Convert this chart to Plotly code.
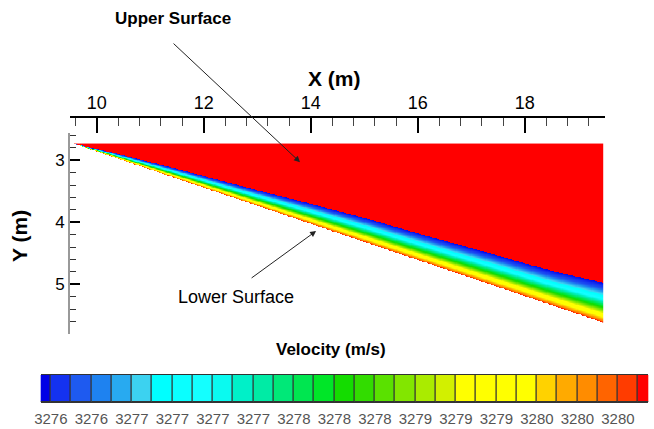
import numpy as np
import plotly.graph_objects as go

# ---------------- data ----------------
# wedge geometry (m)
apex_x = 9.56
end_x = 19.46
upper_surface_y = 2.73
lower_surface_y_end = 5.61

# boundary-layer thickness (vertical, m) along the lower surface
bl_station_x = [9.56, 10.44, 11.56, 12.86, 13.99, 15.11, 16.23, 17.35, 18.47, 19.46]
bl_thickness = [0.0, 0.08, 0.16, 0.24, 0.32, 0.39, 0.44, 0.50, 0.55, 0.64]

# velocity profile across the layer (fraction of thickness from the wall)
bl_frac = [0.0, 0.03, 0.10, 0.19, 0.38, 0.60, 0.85, 1.0]
bl_velocity = [3280.3, 3280.0, 3279.6, 3279.2, 3278.1, 3277.0, 3276.1, 3275.85]
freestream_velocity = 3280.325

# legend (contour levels)
legend_min = 3275.825
legend_step = 0.15
legend_colors = [
    "#0000e6", "#1432f0", "#1e5af0", "#1e82f0", "#28aaf0", "#3cd2f0",
    "#00ffff", "#0affff", "#14ffff", "#0afaf0", "#00f0c8", "#00eba5",
    "#00e878", "#00e650", "#00e628", "#14dc00", "#32dc00", "#5ae100",
    "#82e600", "#aaeb00", "#d2f000", "#ffff00", "#ffff00", "#ffff00",
    "#ffff00", "#ffd200", "#ffaa00", "#ff8c00", "#ff6400", "#ff3c00",
    "#ff0000",
]
legend_labels = ["3276", "3276", "3277", "3277", "3277", "3277", "3278", "3278",
                 "3278", "3279", "3279", "3279", "3280", "3280", "3280"]

# ---------------- build field ----------------
n_levels = len(legend_colors)
zmin = legend_min
zmax = legend_min + legend_step * (n_levels - 1)
colorscale = [[i / (n_levels - 1), c] for i, c in enumerate(legend_colors)]

xs = np.linspace(apex_x + 0.01, end_x - 0.01, 495)
ys = np.linspace(upper_surface_y + 0.005, lower_surface_y_end - 0.005, 289)
X, Y = np.meshgrid(xs, ys)
slope = (lower_surface_y_end - upper_surface_y) / (end_x - apex_x)
wall = upper_surface_y + slope * (X - apex_x)
thick = np.interp(X, bl_station_x, bl_thickness)
d = (wall - Y) / np.maximum(thick, 1e-6)
Z = np.where(d <= 1.0, np.interp(d, bl_frac, bl_velocity), freestream_velocity)
Z = np.where(Y <= wall, Z, np.nan)

W, H = 654, 429
fx = lambda p: p / W
fy = lambda p: 1 - p / H
FONT = "Liberation Sans, Arial, sans-serif"

fig = go.Figure()
fig.add_trace(go.Heatmap(x=xs, y=ys, z=Z, colorscale=colorscale, zmin=zmin, zmax=zmax,
                         showscale=False, hoverinfo="skip", xaxis="x", yaxis="y"))

pos = list(range(n_levels))
fig.add_trace(go.Bar(x=pos, y=[1] * n_levels, width=1,
                     marker=dict(color=legend_colors, line=dict(color="#333333", width=1)),
                     xaxis="x2", yaxis="y2", hoverinfo="skip"))

fig.update_layout(
    width=W, height=H, autosize=False, margin=dict(l=0, r=0, t=0, b=0, pad=0),
    paper_bgcolor="white", plot_bgcolor="white", showlegend=False, bargap=0,
    font=dict(family=FONT, color="black"),
    xaxis=dict(domain=[fx(70), fx(605)], range=[9.5, 19.5], side="top", anchor="free",
               position=fy(117), showline=True, linecolor="black", linewidth=2,
               ticks="inside", ticklen=15, tickwidth=2, tickcolor="black",
               tick0=10, dtick=2, tickfont=dict(size=18, family=FONT),
               minor=dict(tick0=10, dtick=0.4, ticks="inside", ticklen=8, tickwidth=1,
                          tickcolor="#444"),
               showgrid=False, zeroline=False, automargin=False),
    yaxis=dict(domain=[fy(334), fy(133)], range=[5.8, 2.56], anchor="x",
               showline=True, linecolor="#999", linewidth=2,
               ticks="inside", ticklen=10, tickwidth=2, tickcolor="black",
               tick0=3, dtick=1, tickfont=dict(size=17, family=FONT),
               minor=dict(tick0=3, dtick=0.2, ticks="inside", ticklen=6, tickwidth=1,
                          tickcolor="#333"),
               showgrid=False, zeroline=False, automargin=False),
    xaxis2=dict(domain=[fx(40.7), fx(648.3)], range=[0, n_levels - 1], anchor="y2",
                showline=True, mirror=True, linecolor="#333", linewidth=1,
                tickvals=[2 * k + 0.5 for k in range(len(legend_labels))],
                ticktext=legend_labels, ticks="", ticklabelstandoff=3,
                tickfont=dict(size=15, color="#555", family=FONT),
                showgrid=False, zeroline=False, automargin=False),
    yaxis2=dict(domain=[fy(402), fy(375)], range=[0, 1], anchor="x2", visible=False,
                automargin=False),
)

ann = [
    dict(text="<b>X (m)</b>", x=fx(334), y=fy(79), font=dict(size=21)),
    dict(text="<b>Y (m)</b>", x=fx(19), y=fy(236), font=dict(size=21), textangle=-90),
    dict(text="<b>Velocity (m/s)</b>", x=fx(331), y=fy(349), font=dict(size=17)),
    dict(text="<b>Upper Surface</b>", x=fx(173), y=fy(19), font=dict(size=17)),
    dict(text="Lower Surface", x=fx(236), y=fy(297), font=dict(size=18)),
]
for a in ann:
    fig.add_annotation(xref="paper", yref="paper", showarrow=False,
                       xanchor="center", yanchor="middle", **a)

# arrows
fig.add_annotation(xref="x", yref="y", x=13.80, y=3.03, ax=-128, ay=-120, text="",
                   showarrow=True, arrowhead=2, arrowsize=1.2, arrowwidth=1, arrowcolor="#222")
fig.add_annotation(xref="x", yref="y", x=14.10, y=4.14, ax=-66, ay=48, text="",
                   showarrow=True, arrowhead=2, arrowsize=1.2, arrowwidth=1, arrowcolor="#222")

fig.write_html("out.html", config={"displayModeBar": False},
               post_script="document.body.style.margin='0';document.body.style.overflow='hidden';")
